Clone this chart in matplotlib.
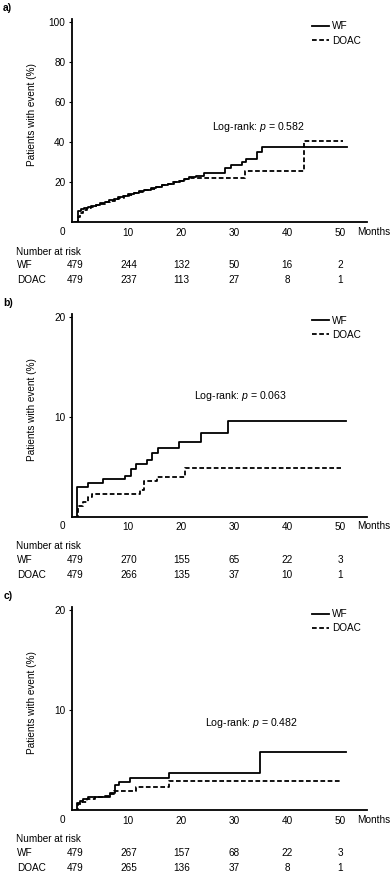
import numpy as np
import matplotlib
matplotlib.use('Agg')
import matplotlib.pyplot as plt

plt.rcParams['font.family'] = ['Liberation Sans', 'DejaVu Sans']
plt.rcParams['mathtext.fontset'] = 'custom'
plt.rcParams['mathtext.rm'] = 'Liberation Sans'
plt.rcParams['mathtext.it'] = 'Liberation Sans:italic'

# ---- panel a) ----
a_wf_t = [0, 0.4, 1.0, 1.6, 2.3, 3.0, 3.8, 4.6, 5.5, 6.4, 7.3, 8.1, 9.0, 10.0, 11.0, 12.0, 13.0,
          14.2, 15.3, 16.4, 17.5, 18.6, 19.7, 20.5, 21.5, 22.8, 24.3, 28.2, 29.3, 31.4, 32.3, 34.2, 35.2, 51.3]
a_wf_v = [0, 5.5, 6.8, 7.3, 7.8, 8.3, 8.9, 9.5, 10.2, 11.0, 11.8, 12.6, 13.3, 14.0, 14.8, 15.5, 16.2,
          17.0, 17.8, 18.6, 19.4, 20.1, 20.8, 21.6, 22.5, 23.4, 24.6, 27.3, 28.8, 30.4, 31.6, 35.4, 37.8, 37.8]
a_doac_t = [0, 0.45, 0.9, 1.5, 2.2, 3.0, 3.8, 4.7, 5.6, 6.5, 7.4, 8.3, 9.2, 10.1, 11.0, 12.0, 13.1,
            14.2, 15.2, 16.3, 17.4, 18.5, 19.6, 20.6, 21.6, 32.1, 43.2, 50.6]
a_doac_v = [0, 2.8, 4.6, 6.2, 7.2, 7.9, 8.6, 9.3, 10.0, 10.8, 11.6, 12.4, 13.1, 13.8, 14.6, 15.3, 16.1,
            16.9, 17.7, 18.5, 19.3, 20.1, 20.9, 21.6, 22.4, 25.8, 40.7, 40.7]
a_risk_wf = [479, 244, 132, 50, 16, 2]
a_risk_doac = [479, 237, 113, 27, 8, 1]

# ---- panel b) ----
b_wf_t = [0, 0.35, 2.4, 5.3, 9.4, 10.5, 11.5, 13.5, 14.4, 15.5, 19.6, 23.8, 28.8, 51.0]
b_wf_v = [0, 3.0, 3.4, 3.73, 4.07, 4.8, 5.23, 5.67, 6.4, 6.9, 7.5, 8.33, 9.6, 9.6]
b_doac_t = [0, 0.55, 1.5, 2.4, 3.2, 12.2, 12.9, 15.4, 20.6, 50.2]
b_doac_v = [0, 1.07, 1.47, 2.0, 2.23, 2.67, 3.57, 4.0, 4.87, 4.87]
b_risk_wf = [479, 270, 155, 65, 22, 3]
b_risk_doac = [479, 266, 135, 37, 10, 1]

# ---- panel c) ----
c_wf_t = [0, 0.35, 0.8, 1.4, 2.4, 6.5, 7.4, 8.2, 10.3, 17.6, 34.9, 51.0]
c_wf_v = [0, 0.67, 0.9, 1.1, 1.33, 1.7, 2.5, 2.85, 3.17, 3.75, 5.77, 5.77]
c_doac_t = [0, 0.55, 1.2, 2.2, 3.7, 5.6, 6.5, 7.3, 11.4, 17.6, 50.2]
c_doac_v = [0, 0.57, 0.83, 1.07, 1.33, 1.4, 1.6, 1.93, 2.27, 2.9, 2.9]
c_risk_wf = [479, 267, 157, 68, 22, 3]
c_risk_doac = [479, 265, 136, 37, 8, 1]

risk_months = [0, 10, 20, 30, 40, 50]
x_ticks = [10, 20, 30, 40, 50]

panels = [
    ('a)', a_wf_t, a_wf_v, a_doac_t, a_doac_v, a_risk_wf, a_risk_doac,
     101.5, [20, 40, 60, 80, 100], 'Log-rank: $p$ = 0.582', (34.5, 47.6), 0.7462),
    ('b)', b_wf_t, b_wf_v, b_doac_t, b_doac_v, b_risk_wf, b_risk_doac,
     20.3, [10, 20], 'Log-rank: $p$ = 0.063', (31.1, 12.1), 0.4102),
    ('c)', c_wf_t, c_wf_v, c_doac_t, c_doac_v, c_risk_wf, c_risk_doac,
     20.3, [10, 20], 'Log-rank: $p$ = 0.482', (33.3, 8.7), 0.0753),
]

fs = 7.2
fig = plt.figure(figsize=(3.91, 8.76), dpi=100)

for (lab, wt, wv, dt, dv, rwf, rdo, ytop, yt, ptxt, ppos, bot) in panels:
    ax = fig.add_axes([0.1834, bot, 0.7545, 0.2317])
    ax.plot(wt, wv, color='black', lw=1.3, drawstyle='steps-post', label='WF')
    ax.plot(dt, dv, color='black', lw=1.3, drawstyle='steps-post', dashes=(2.6, 1.4), label='DOAC')
    ax.set_xlim(-0.7, 55.0)
    ax.set_ylim(0, ytop)
    ax.spines['top'].set_visible(False)
    ax.spines['right'].set_visible(False)
    ax.spines['left'].set_linewidth(1.3)
    ax.spines['bottom'].set_linewidth(1.3)
    ax.set_xticks(x_ticks)
    ax.set_yticks(yt)
    ax.tick_params(axis='x', length=0, pad=4, labelsize=fs)
    ax.tick_params(axis='y', length=2.5, width=0.8, pad=2, labelsize=fs)
    ax.set_ylabel('Patients with event (%)', fontsize=fs)
    ax.yaxis.set_label_coords(-0.118, 0.53)
    ax.text(-0.033, -0.048, '0', transform=ax.transAxes, ha='center', va='center', fontsize=fs)
    ax.text(0.967, -0.048, 'Months', transform=ax.transAxes, ha='left', va='center', fontsize=fs)
    ax.text(ppos[0], ppos[1], ptxt, ha='center', va='center', fontsize=7.6)
    ax.legend(loc='upper left', bbox_to_anchor=(0.815, 0.99), frameon=False, fontsize=fs,
              handlelength=1.65, handletextpad=0.3, borderpad=0, borderaxespad=0, labelspacing=0.42)

    # number at risk table
    ax.text(-0.188, -0.145, 'Number at risk', transform=ax.transAxes, ha='left', va='center', fontsize=fs)
    ax.text(-0.186, -0.212, 'WF', transform=ax.transAxes, ha='left', va='center', fontsize=fs)
    ax.text(-0.186, -0.286, 'DOAC', transform=ax.transAxes, ha='left', va='center', fontsize=fs)
    tr = ax.get_xaxis_transform()
    for m, n1, n2 in zip(risk_months, rwf, rdo):
        ax.text(m, -0.212, str(n1), transform=tr, ha='center', va='center', fontsize=fs)
        ax.text(m, -0.286, str(n2), transform=tr, ha='center', va='center', fontsize=fs)

    fig.text(0.008, bot + 0.2317 + 0.0125, lab, ha='left', va='center', fontsize=7.5, fontweight='bold')

fig.savefig('out.png', dpi=100)
